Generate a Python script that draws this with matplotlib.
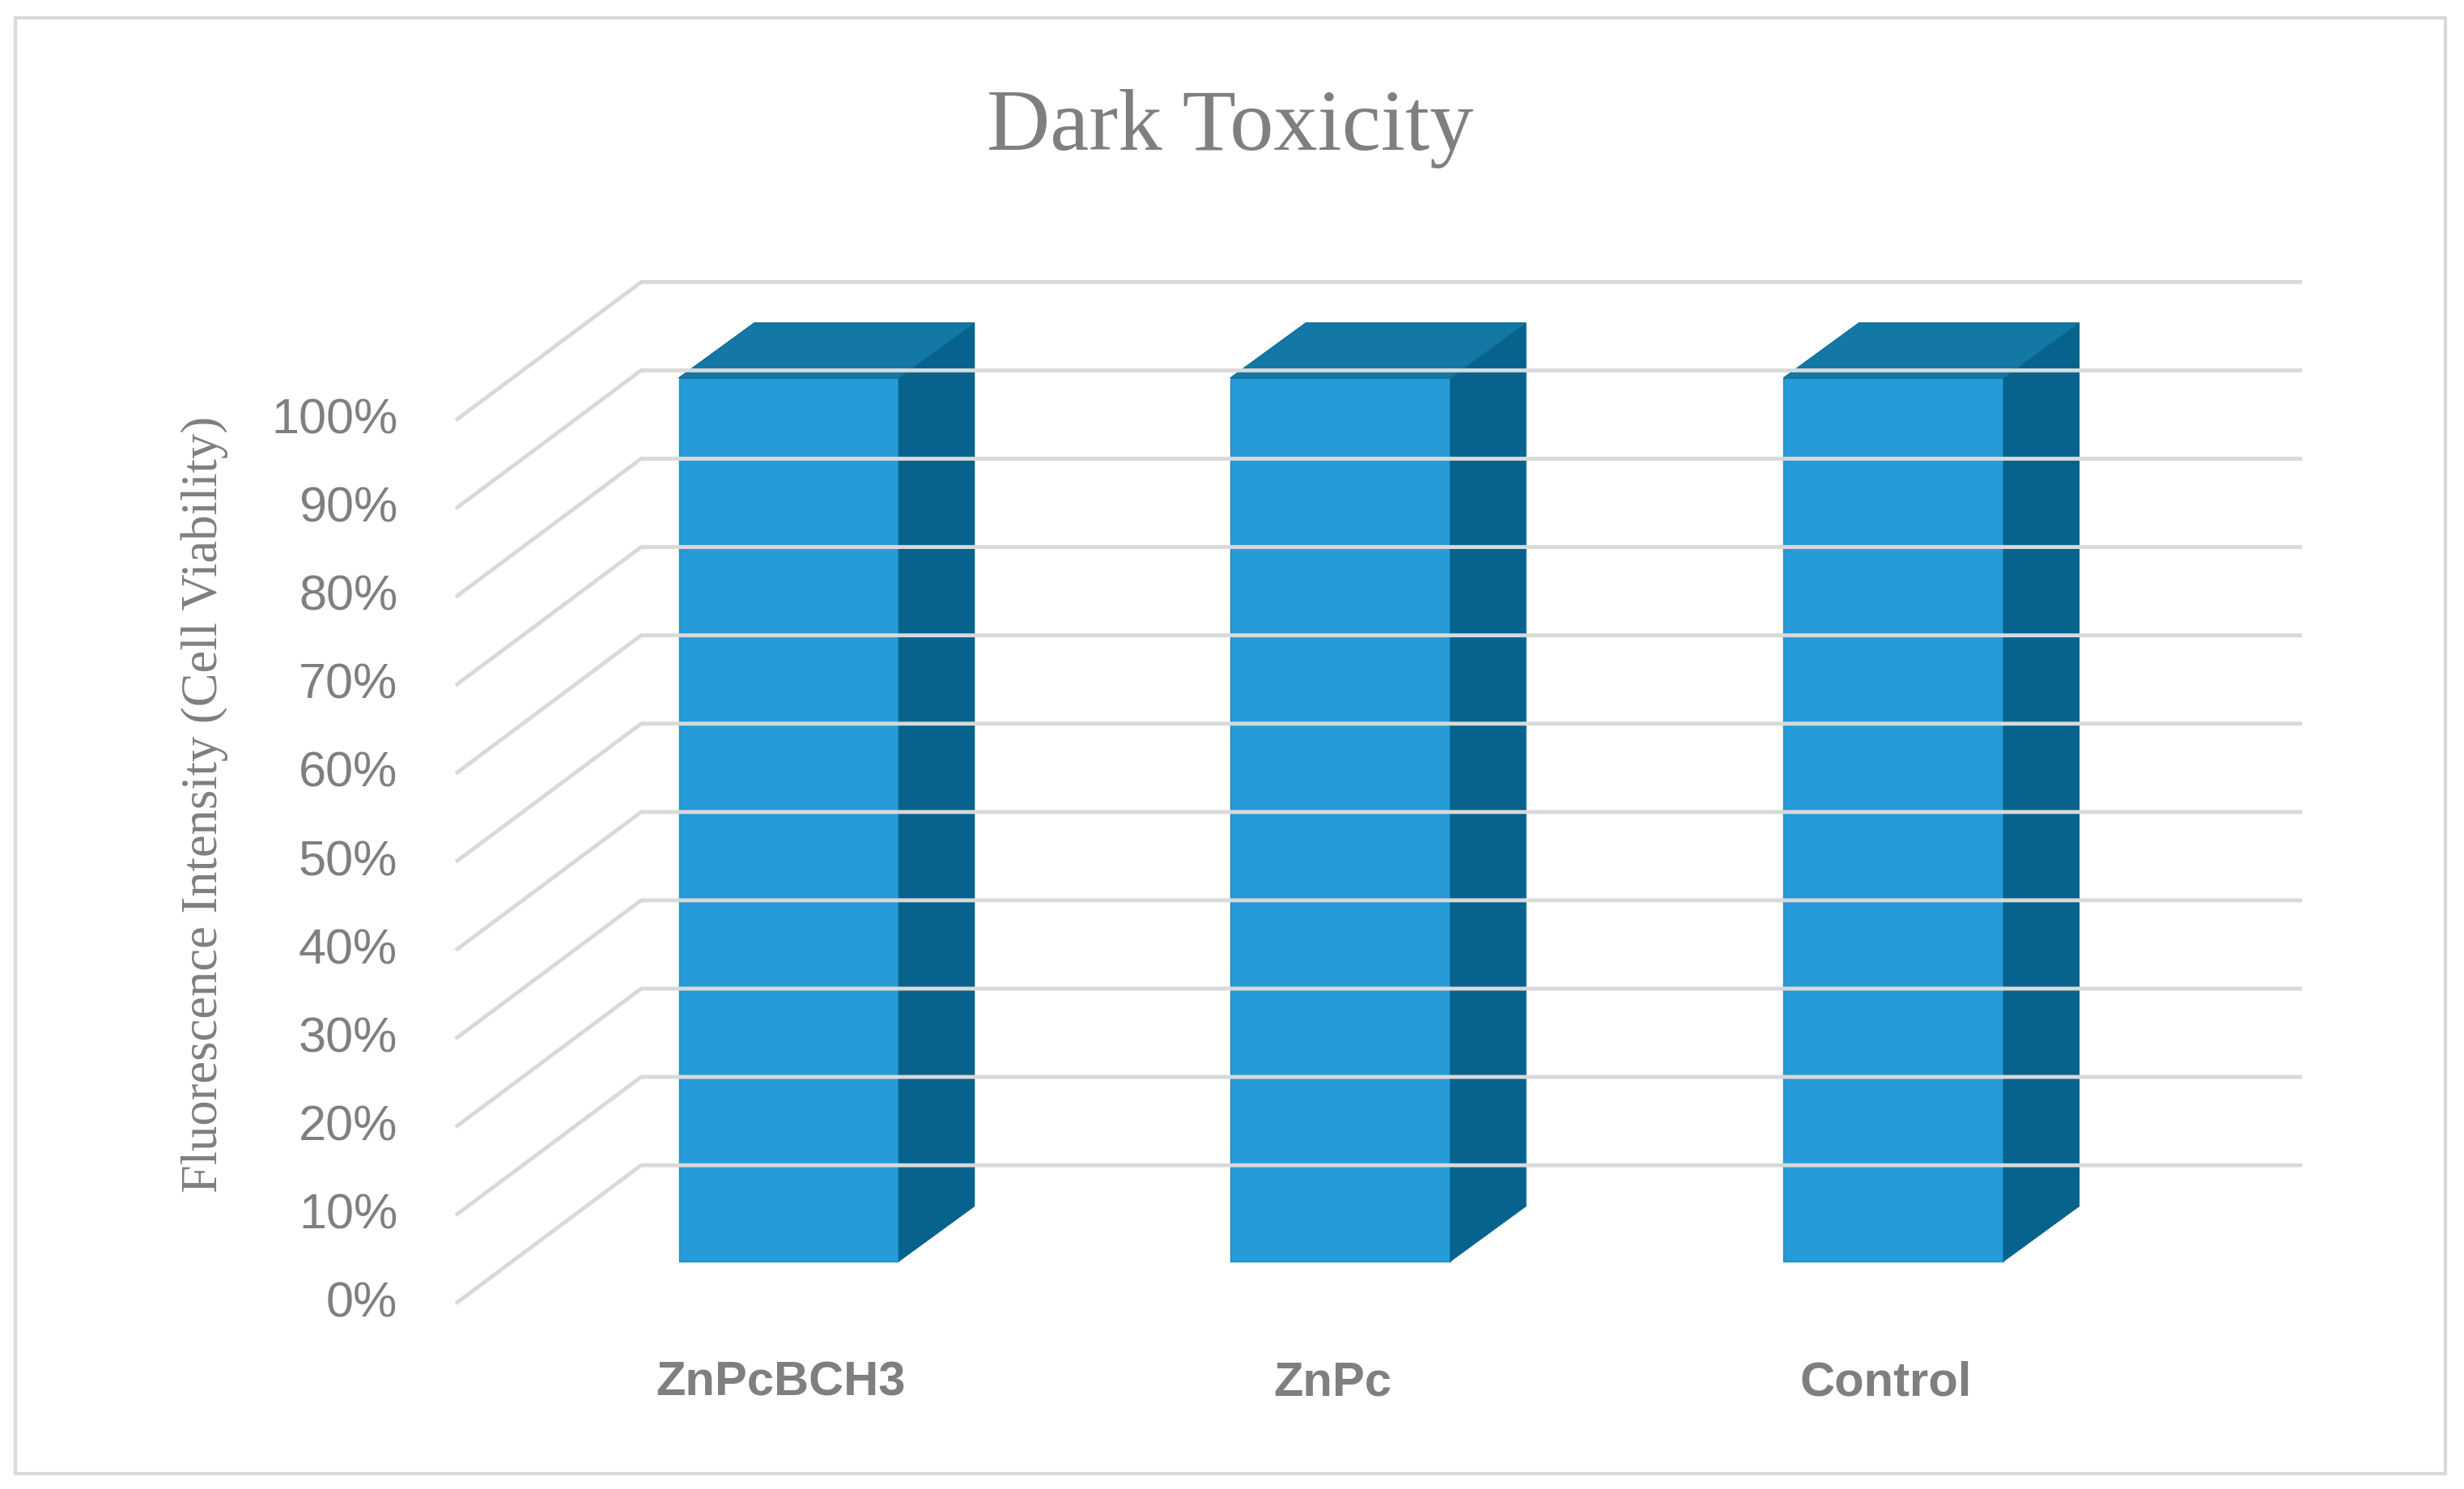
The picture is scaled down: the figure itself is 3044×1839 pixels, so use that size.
import matplotlib.pyplot as plt
from matplotlib.patches import Polygon, Rectangle

categories = ['ZnPcBCH3', 'ZnPc', 'Control']
values = [1.0, 1.0, 1.0]
tick_labels = ['0%', '10%', '20%', '30%', '40%', '50%', '60%', '70%', '80%', '90%', '100%']

# layout in reference-display units (1568 x 948)
W, H = 1568, 948
floor_front = 830
step = 56.2
wall_dx, wall_dy = 118, -88
bar_depth = 27 / 88
bar_left = [432, 783, 1135]
bar_w = 140
bar_dx, bar_dy = 48, -35

grey = '#7f7f7f'
grid = '#d9d9d9'

fig = plt.figure(figsize=(30.44, 18.40), dpi=100)
ax = fig.add_axes([0, 0, 1, 1])
ax.set_xlim(0, W)
ax.set_ylim(H, 0)
ax.axis('off')

ax.add_patch(Rectangle((10, 12), 1546, 926, fill=False, edgecolor=grid, lw=3))

ax.text(783, 82, 'Dark Toxicity', ha='center', va='center', fontsize=78,
        family='Liberation Serif', color=grey)

for i, lab in enumerate(tick_labels):
    y = floor_front - i * step
    ax.plot([290, 290 + wall_dx, 1465], [y, y + wall_dy, y + wall_dy], color=grid, lw=3.5,
            solid_capstyle='butt')
    ax.text(253, y, lab, ha='right', va='center', fontsize=44, family='Liberation Sans',
            color=grey)

ax.text(130, 512, 'Fluorescence Intensity (Cell Viability)', rotation=90, ha='center',
        va='center', fontsize=45, family='Liberation Serif', color=grey)

off_x = wall_dx * bar_depth
off_y = wall_dy * bar_depth
for x0, v, name in zip(bar_left, values, categories):
    yb = floor_front + off_y
    yt = floor_front - v * 10 * step + off_y
    x1 = x0 + bar_w
    ax.add_patch(Polygon([(x0, yb), (x1, yb), (x1, yt), (x0, yt)], closed=True,
                         facecolor='#269bd8', edgecolor='#1f8ac2', lw=1))
    ax.add_patch(Polygon([(x1, yb), (x1 + bar_dx, yb + bar_dy), (x1 + bar_dx, yt + bar_dy),
                          (x1, yt)], closed=True, facecolor='#07638e', edgecolor='#07638e'))
    ax.add_patch(Polygon([(x0, yt), (x1, yt), (x1 + bar_dx, yt + bar_dy), (x0 + bar_dx, yt + bar_dy)],
                         closed=True, facecolor='#1478a6', edgecolor='#0f6d98'))
    ax.text(x0 + bar_w / 2 - 5, 880, name, ha='center', va='center', fontsize=43,
            family='Liberation Sans', fontweight='bold', color=grey)

fig.savefig('out.png', dpi=100)
